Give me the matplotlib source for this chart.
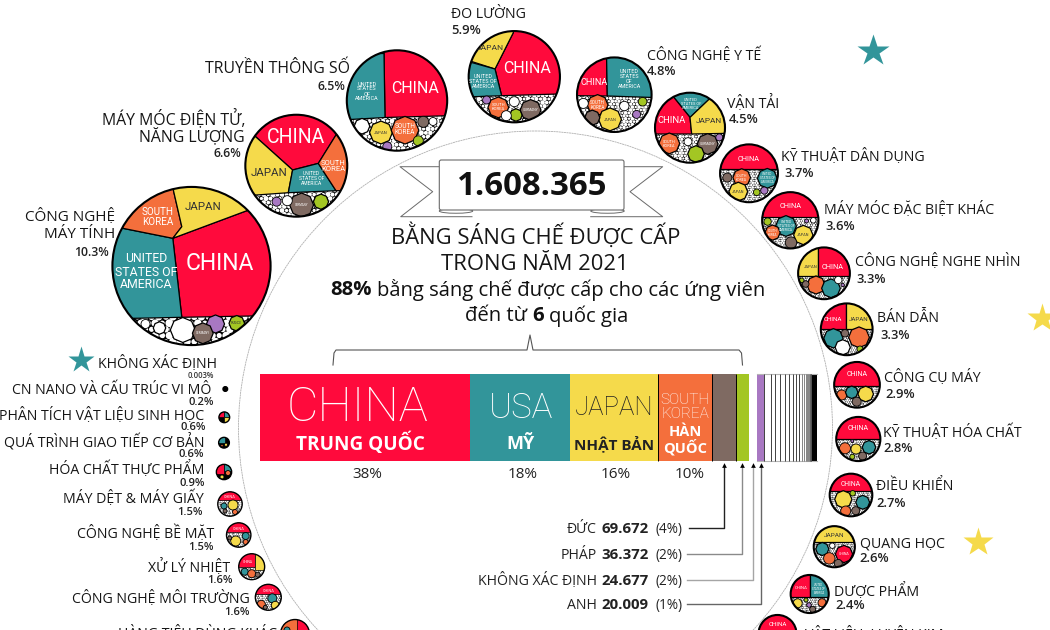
import matplotlib
matplotlib.use("Agg")
import matplotlib.pyplot as plt
from matplotlib.patches import Circle, Polygon, RegularPolygon, Ellipse, FancyBboxPatch

BODY = "Open Sans"
CAPS = "Roboto"
INNER_SCALE = 1.1

# country colours
RED = "#FF0A3C"
TEAL = "#32959A"
YEL = "#F5DA4B"
ORG = "#F46F3C"
BRN = "#7F6A62"
GRN = "#A3C623"
PUR = "#A878C2"

total_patents = "1.608.365"

# stacked bar, patents per country
bar_names = ["CHINA", "USA", "JAPAN", "KOREA", "DE", "FR", "UNK", "UK"]
bar_counts = [606400, 288750, 254100, 155900, 69672, 36372, 24677, 20009]
bar_colors = [RED, TEAL, YEL, ORG, BRN, GRN, "white", PUR]
tail_counts = [19300, 12400, 14400, 13600, 12400, 11500, 8700, 8700, 8700,
               6000, 5000, 4000, 3000, 2500, 2000, 1500, 1200, 900, 700]
others_count = 16285
bar_percents = ["38%", "18%", "16%", "10%"]

detail_names = ["ĐỨC", "PHÁP", "KHÔNG XÁC ĐỊNH", "ANH"]
detail_values = ["69.672", "36.372", "24.677", "20.009"]
detail_pcts = ["(4%)", "(2%)", "(2%)", "(1%)"]

# technology fields, share of all patents
fields = ["CÔNG NGHỆ\nMÁY TÍNH", "MÁY MÓC ĐIỆN TỬ,\nNĂNG LƯỢNG", "TRUYỀN THÔNG SỐ", "ĐO LƯỜNG",
          "CÔNG NGHỆ Y TẾ", "VẬN TẢI", "KỸ THUẬT DÂN DỤNG", "MÁY MÓC ĐẶC BIỆT KHÁC",
          "CÔNG NGHỆ NGHE NHÌN", "BÁN DẪN", "CÔNG CỤ MÁY", "KỸ THUẬT HÓA CHẤT",
          "ĐIỀU KHIỂN", "QUANG HỌC", "DƯỢC PHẨM", "VẬT LIỆU, LUYỆN KIM",
          "HÀNG TIÊU DÙNG KHÁC", "CÔNG NGHỆ MÔI TRƯỜNG", "XỬ LÝ NHIỆT", "CÔNG NGHỆ BỀ MẶT",
          "MÁY DỆT & MÁY GIẤY", "HÓA CHẤT THỰC PHẨM", "QUÁ TRÌNH GIAO TIẾP CƠ BẢN",
          "PHÂN TÍCH VẬT LIỆU SINH HỌC", "CN NANO VÀ CẤU TRÚC VI MÔ"]
field_shares = [10.3, 6.6, 6.5, 5.9, 4.8, 4.5, 3.7, 3.6, 3.3, 3.3, 2.9, 2.8, 2.7, 2.6, 2.4, 2.4,
                1.8, 1.6, 1.6, 1.5, 1.5, 0.9, 0.6, 0.6, 0.2]

# bubble centres, in figure pixels
centers = [(191.5, 266), (296.3, 165.7), (397, 100.5), (514.3, 76.7), (614.3, 94.7), (690, 127.7),
           (749, 173.3), (790.3, 220.3), (824, 273.3), (846.7, 329.3), (857, 384.8), (858.3, 439),
           (851, 495), (834.3, 546.7), (809.7, 594), (777.5, 634),
           (295, 634), (268.3, 597.3), (251.7, 566.7), (238.7, 535), (230, 504), (224, 472),
           (224, 442.7), (224.3, 417.3), (225.3, 389)]

# label anchors: text x, text y, pct x, pct y, side
label_pos = [(115, 215, 109, 251, "right"), (245, 117, 241, 152, "right"), (350, 67, 345, 85, "right"),
             (451, 12, 451, 29, "left"), (647, 54, 647, 70, "left"), (727, 102, 729, 118, "left"),
             (781, 155, 784, 172, "left"), (824, 208, 825, 225, "left"), (855, 260.5, 856, 278, "left"),
             (877, 317, 880, 334, "left"), (884, 376.5, 885.5, 393, "left"), (883, 431, 883.5, 447, "left"),
             (876, 485, 876.5, 502, "left"), (860, 542, 859, 557, "left"), (834, 589, 835, 604, "left"),
             (805, 633, None, None, "left"),
             (277, 633, None, None, "right"), (250, 597, 250, 611, "right"), (230, 565, 233, 579, "right"),
             (214, 532, 214, 546, "right"), (204, 497, 203, 511, "right"), (204, 468, 205, 482, "right"),
             (204, 440, 204, 453, "right"), (204, 414, 206, 426, "right"), (211, 388, 214, 401, "right")]

# top cells of each bubble: colour and outline, offsets from the centre (overshoot is clipped)
def cap(y):
    return [(-90, -90), (90, -90), (90, y), (-90, y)]

def quad(x, y, side):
    return [(x, -90), (side * 90, -90), (side * 90, y), (x, y)]

cells = {
    0: [(RED, [(-18.7, -27.7), (55.3, -55.3), (100, -60), (100, 50), (60.3, 50), (-9.7, 51.3)]),
        (TEAL, [(-68.7, -37.7), (-18.7, -27.7), (-9.7, 51.3), (-56.3, 52.3), (-100, 52), (-100, -37)]),
        (ORG, [(-68.7, -37.7), (-80, -100), (-16, -100), (-18, -75.3), (-9.7, -39.3), (-18.7, -27.7)]),
        (YEL, [(-18, -75.3), (-9.7, -39.3), (-18.7, -27.7), (55.3, -55.3), (55, -100), (-18, -100)])],
    1: [(RED, [(-40.7, -29), (-3.7, 4.3), (22, -2.3), (39.7, -30.7), (60, -60), (-60, -60)]),
        (YEL, [(-40.7, -29), (-3.7, 4.3), (-8, 27), (-39.7, 29.3), (-70, 29), (-70, -29)]),
        (TEAL, [(-3.7, 4.3), (22, -2.3), (39.7, 25), (-8, 27)]),
        (ORG, [(39.7, -30.7), (22, -2.3), (39.7, 25), (70, 25), (70, -30)])],
    2: [(RED, [(-13, -47), (-12, 17), (48, 15.3), (60, 15), (60, -60), (-13, -60)]),
        (TEAL, [(-13, -47), (-12, 17), (-47, 19), (-60, 19), (-60, -47)])],
    3: [(RED, [(-1, -44), (-19.3, -7.7), (-12.7, 19), (44, 17.3), (60, 17), (60, -60), (0, -60)]),
        (YEL, [(-1, -44), (-19.3, -7.7), (-42, -15), (-60, -15), (-60, -60), (-1, -60)]),
        (TEAL, [(-42, -14), (-19.3, -7.7), (-12.7, 19), (-41, 20), (-60, 20), (-60, -14)])],
    4: [(RED, [(-7.7, -35.3), (-7, 1.3), (-36.3, 1), (-50, 1), (-50, -50), (-8, -50)]),
        (TEAL, [(-7.7, -35.3), (-7, 1.3), (36.3, 2.7), (50, 3), (50, -50), (-8, -50)])],
    5: [(TEAL, [(-16.7, -31), (0, -10.3), (20, -29.3), (20, -50), (-17, -50)]),
        (RED, [(-16.7, -31), (0, -10.3), (1.7, 6.3), (-34, 6.3), (-50, 6), (-50, -40), (-17, -40)]),
        (YEL, [(20, -29.3), (0, -10.3), (1.7, 6.3), (34, 5.7), (50, 6), (50, -40), (20, -40)])],
    6: [(RED, cap(-4.3))],
    7: [(RED, cap(-3.7))],
    8: [(YEL, quad(-5.7, 2.7, -1)), (RED, quad(-5.7, 2.7, 1))],
    9: [(RED, quad(-1, 0, -1)), (YEL, quad(-1, 0, 1))],
    10: [(RED, cap(1))],
    11: [(RED, cap(0))],
    12: [(RED, cap(-4.3))],
    13: [(YEL, cap(-4.3))],
    14: [(RED, quad(0.3, 3.3, -1)), (TEAL, quad(0.3, 3.3, 1))],
    15: [(RED, cap(-2))],
    16: [(ORG, cap(-4)), (RED, quad(2, 6, 1))],
    17: [(RED, cap(-3))],
    18: [(RED, quad(3, 0, -1)), (YEL, quad(3, 3, 1))],
    19: [(RED, cap(-3))],
    20: [(RED, cap(-4))],
    21: [(RED, quad(0, 2, -1)), (TEAL, [(0, -9), (9, -9), (9, -1), (0, -1)])],
    22: [(TEAL, quad(1, 0, -1))],
    23: [(RED, quad(0, 0, -1)), (TEAL, quad(0, 0, 1)), (YEL, [(0, 0), (9, 0), (9, 9), (0, 9)])],
}

# round cells in the lower part: colour, dx, dy, radius
blobs = {
    0: [("white", -8.7, 64, 12), (PUR, 24, 58, 8.7), (GRN, 45.3, 57.3, 7.5), (BRN, 11.3, 67.3, 10),
        ("white", -32, 62, 6), ("white", -46, 58, 4.5)],
    1: [(BRN, 5.3, 39.3, 11.5), (GRN, 24.7, 36, 7.3), (PUR, -19.7, 36, 4.5), ("white", -9, 35, 5)],
    2: [(YEL, -16, 32, 11), (ORG, 8, 29.7, 13.3), (BRN, 26.3, 21.3, 5.5), (GRN, 21.3, 40.3, 5),
        (PUR, -9.7, 46, 4.5), ("white", -35, 25.7, 7.5), ("white", 36, 21, 4)],
    3: [(ORG, -16, 30.7, 10), (GRN, 1.7, 38.3, 6), (BRN, 16.3, 33.3, 10), (PUR, -27.7, 23.3, 4),
        ("white", -8, 39, 5), ("white", 0, 25, 5)],
    4: [(ORG, -16.7, 10.3, 10), (YEL, -4.3, 24.7, 11), (BRN, -22, 23, 7.3), (PUR, 22.3, 19.7, 4),
        (GRN, 28.3, 7, 4.3), ("white", -31, 8.7, 5), ("white", 10, 11.3, 4.7)],
    5: [(ORG, -20.7, 15.7, 10), (BRN, 17.7, 16.3, 10), (GRN, 6, 26.3, 8), (PUR, 29.3, 9.7, 3.5),
        ("white", -2, 14, 4)],
    6: [(ORG, -7.3, 4.3, 8.5), (TEAL, 18.3, 5, 9.5), (BRN, -21.7, 4.3, 4.5), (YEL, -10.7, 18.3, 9),
        (GRN, 7.7, 19, 3.3), (PUR, 15.3, 17.3, 3.6)],
    7: [(TEAL, -4.3, 5.7, 10), (YEL, 13, 14.7, 9.3), (ORG, -17.7, 12.3, 7.3), (BRN, 0.7, 22.3, 5.7),
        (GRN, -22.7, 1.3, 3.7), (PUR, 16.3, 0.7, 2), ("white", 23, 0, 2.8)],
    8: [(ORG, -8, 11.7, 8.7), (TEAL, 7, 15, 9), (BRN, -18.3, 10.7, 3.3), (GRN, -22.3, 7, 2.3),
        ("white", 14.3, 6.7, 3.7), (PUR, 18.7, 11.7, 1.7)],
    9: [(TEAL, -13.3, 9, 9.3), (ORG, 12.3, 8, 10), ("white", -4, 18, 7.3), (BRN, -1.7, 4, 3.7),
        (GRN, 13.3, 19.7, 3)],
    10: [(ORG, -15.3, 10.2, 5), (TEAL, -5.3, 7.5, 6), (YEL, 8.7, 9.2, 7.5), (BRN, -0.3, 16.9, 4.5)],
    11: [(ORG, -13.3, 9.3, 5.5), (YEL, -2.3, 10, 5), (TEAL, 10.7, 8.3, 6.5), (BRN, 4.3, 17, 4),
         (GRN, -6, 17.7, 2.5), (PUR, -6, 2, 1.5)],
    12: [(YEL, -7.7, 4.3, 8.3), (TEAL, 11.7, 7.3, 6.7), (ORG, -5.3, 16, 5), (BRN, 4.7, 15.7, 4),
         (GRN, 1.7, -1.7, 2.7)],
    13: [(RED, 9.7, 7.3, 8.3), (TEAL, -12, 2.3, 6.3), (ORG, -5, 11.7, 5.7), (BRN, 4, 16.7, 4),
         ("white", -2, -1, 2.7)],
    14: [(YEL, -12, 9.3, 4.5), (ORG, 12.3, 8.7, 4), (BRN, 3, 15.3, 3), (PUR, -0.7, 11, 2.3),
         (GRN, -3.7, 6, 2)],
    16: [(YEL, -5, 6, 4), (TEAL, -8, -4, 3)],
    17: [(ORG, -7, 7, 4), (TEAL, 4, 1, 4.5), (YEL, 7, 8, 4), (BRN, -3, 10, 2)],
    18: [(TEAL, -7, 5, 3.5), (ORG, 0, 7, 4), (BRN, 6, 8, 2.5)],
    19: [(YEL, -3, 6, 5), (TEAL, 7, 1, 3.5), (ORG, 7, 7, 2.5), (BRN, -9, 3, 2)],
    20: [(YEL, 3, 1, 5), (TEAL, -6, 2, 3), (ORG, 5, 8, 2.5), (BRN, -5, 7, 2)],
    21: [(ORG, 4, 1, 2.5), (YEL, -2, 5, 2)],
    22: [(YEL, 2, 2, 1.6), (ORG, -2, 3, 1.2)],
    23: [],
}

# text inside the bubbles: text, dx, dy, font size, colour
inner_text = {
    0: [("CHINA", 28.5, -3, 15, "white"), ("UNITED\nSTATES OF\nAMERICA", -45, 6, 8, "white"),
        ("SOUTH\nKOREA", -33.5, -49, 6.5, "white"), ("JAPAN", 12, -59, 7.5, "#333333"),
        ("GERMANY", 11.3, 67.3, 2, "white"), ("FRANCE", 45.3, 57.3, 2, "#333333")],
    1: [("CHINA", 0, -28, 12.8, "white"), ("JAPAN", -27, 7, 7.5, "#333333"),
        ("UNITED\nSTATES OF\nAMERICA", 15, 13, 3.3, "white"), ("SOUTH\nKOREA", 37, 0, 5, "white"),
        ("GERMANY", 5.3, 39.3, 1.9, "white")],
    2: [("CHINA", 18, -12, 10.5, "white"), ("UNITED\nSTATES\nOF\nAMERICA", -30, -9, 3.6, "white"),
        ("JAPAN", -16, 32, 2.8, "#333333"), ("SOUTH\nKOREA", 8, 29, 4.3, "white")],
    3: [("CHINA", 13, -8, 10.5, "white"), ("JAPAN", -24, -29, 5.5, "#333333"),
        ("UNITED\nSTATES OF\nAMERICA", -31, 5, 3.5, "white"), ("SOUTH\nKOREA", -16, 30.5, 2.8, "white"),
        ("GERMANY", 16.3, 33.3, 2.2, "white")],
    4: [("CHINA", -20, -12.5, 6, "white"), ("UNITED\nSTATES\nOF\nAMERICA", 15, -15.5, 3.5, "white"),
        ("SOUTH\nKOREA", -16.7, 10, 3, "white"), ("JAPAN", -4.3, 25, 2.6, "#333333")],
    5: [("CHINA", -18, -7.5, 6.2, "white"), ("JAPAN", 19, -7, 5.4, "#333333"),
        ("UNITED\nSTATES OF\nAMERICA", 1, -24, 2.6, "white"), ("SOUTH\nKOREA", -20.7, 16, 2.5, "white"),
        ("GERMANY", 17.7, 16.3, 2.2, "white")],
    6: [("CHINA", 0, -14, 4.8, "white"), ("SOUTH\nKOREA", -7.3, 4.3, 2.3, "white"),
        ("UNITED\nSTATES OF\nAMERICA", 18.3, 5, 2, "white"), ("JAPAN", -10.7, 18.3, 2.5, "#333333")],
    7: [("CHINA", 0, -14, 4.8, "white"), ("UNITED\nSTATES OF\nAMERICA", -4.3, 5.7, 2.1, "white"),
        ("JAPAN", 13, 14.7, 2.5, "#333333"), ("SOUTH\nKOREA", -17.7, 12.3, 2, "white")],
    8: [("CHINA", 9, -6, 4.8, "white"), ("JAPAN", -13, -6, 2.8, "#333333")],
    9: [("CHINA", -13.5, -10, 4, "white"), ("JAPAN", 12, -10, 4, "#333333")],
    10: [("CHINA", 0, -10, 4.6, "white")],
    11: [("CHINA", 0, -10, 4.6, "white")],
    12: [("CHINA", 0, -10, 4.4, "white")],
    13: [("JAPAN", 0, -11, 4.2, "#333333"), ("CHINA", 9.7, 7.3, 2.4, "white")],
    14: [("CHINA", -9, -6, 2.8, "white"), ("UNITED\nSTATES OF\nAMERICA", 9, -5, 1.7, "white")],
    15: [("CHINA", 0, -9, 4, "white")],
    17: [("CHINA", 0, -6, 2.5, "white")],
    18: [("CHINA", -4, -5, 2.2, "white")],
    19: [("CHINA", 0, -6, 2.5, "white")],
    20: [("CHINA", 0, -7, 2.5, "white")],
}

speck_sizes = (0.5, 0.4, 0.52, 0.36, 0.55, 0.44)

fig = plt.figure(figsize=(10.5, 6.3), dpi=100)
ax = fig.add_axes([0, 0, 1, 1])
ax.set_xlim(0, 1050)
ax.set_ylim(630, 0)
ax.axis("off")


def radius_of(share):
    return 0.8 + 7.6 * share


def draw_bubble(idx, share):
    cx, cy = centers[idx]
    r = radius_of(share)
    outline = Circle((cx, cy), r, fc="black", ec="none", zorder=3)
    ax.add_patch(outline)
    parts = []
    # white specks between the cells of the lower part
    if r > 10:
        step = max(2.2, r * 0.09)
        row = 0
        y = -r
        while y < r:
            x = -r + (step / 2 if row % 2 else 0)
            col = 0
            while x < r:
                s = speck_sizes[(row * 2 + col) % len(speck_sizes)]
                parts.append(Circle((cx + x, cy + y), step * s, fc="white", ec="none", zorder=3.1))
                x += step
                col += 1
            y += step * 0.87
            row += 1
    for color, pts in cells.get(idx, []):
        shifted = [(cx + px, cy + py) for px, py in pts]
        parts.append(Polygon(shifted, closed=True, fc=color, ec="black", lw=0.9 if r > 15 else 0.5, zorder=3.2))
    for color, dx, dy, br in blobs.get(idx, []):
        if br >= 6:
            parts.append(RegularPolygon((cx + dx, cy + dy), 8, radius=br * 1.04, fc=color, ec="black",
                                        lw=0.9, joinstyle="round", zorder=3.3))
        else:
            parts.append(Circle((cx + dx, cy + dy), br, fc=color, ec="black", lw=0.6, zorder=3.3))
    for p in parts:
        ax.add_patch(p)
        p.set_clip_path(outline)
    ax.add_patch(Circle((cx, cy), r, fc="none", ec="black", lw=1.5 if r > 15 else 1.0, zorder=3.6))
    for txt, dx, dy, size, color in inner_text.get(idx, []):
        t = ax.text(cx + dx, cy + dy, txt, ha="center", va="center", ma="center", fontsize=size * INNER_SCALE,
                    color=color, family=CAPS, linespacing=1.0, zorder=4)
        t.set_clip_path(outline)


def mixed_line(xc, y, parts, size, color="#111111"):
    # centres a line made of regular and bold pieces
    renderer = fig.canvas.get_renderer()
    widths = []
    for txt, weight in parts:
        t = ax.text(0, 0, txt, fontsize=size, family=BODY, weight=weight)
        widths.append(t.get_window_extent(renderer).width)
        t.remove()
    gap = size * 0.36
    total = sum(widths) + gap * (len(parts) - 1)
    x = xc - total / 2
    for (txt, weight), w in zip(parts, widths):
        ax.text(x, y, txt, fontsize=size, family=BODY, weight=weight, color=color, ha="left", va="center")
        x += w + gap


# dashed ring around the middle block
ax.add_patch(Circle((535.5, 428), 297, fc="none", ec="#b0b0b0", lw=0.6, ls=(0, (2.5, 0.6)), zorder=1))

for i, share in enumerate(field_shares):
    draw_bubble(i, share)

for i, (name, share, (tx, ty, px, py, side)) in enumerate(zip(fields, field_shares, label_pos)):
    fs = 11.4 if i in (1, 2) else (11 if i == 0 else 10.2)
    pct_fs = 8 if i >= 17 else (8.8 if i in (0, 1, 2) else 9.4)
    for k, line in enumerate(name.split("\n")):
        ax.text(tx, ty + 2 + k * 17, line, ha=side, va="center", fontsize=fs, family=BODY, color="#161616", zorder=5)
    if px is not None:
        ax.text(px, py + 1.5, f"{share}%", ha=side, va="center", fontsize=pct_fs, family=BODY, weight="semibold",
                color="#222222", zorder=5)

# field with no bubble
ax.text(217, 364, "KHÔNG XÁC ĐỊNH", ha="right", va="center", fontsize=10.2, family=BODY, color="#161616")
ax.text(214, 376, "0.003%", ha="right", va="center", fontsize=5.5, family=BODY, weight="semibold", color="#333333")

# stars
for x, y, ms, c in [(873, 51, 24, TEAL), (81, 360, 20, TEAL), (978, 542, 22, YEL), (1042, 318, 22, YEL)]:
    ax.plot([x], [y], marker="*", ms=ms, color=c, mec="none", zorder=2)

# ribbon behind the total
rib = "#6a6a6a"
for pts in ([(439, 166.7), (400, 166.7), (432.7, 191.7), (400.7, 216.7), (472, 216.7)],
            [(624, 166.7), (662.7, 166.7), (630, 191.7), (662.7, 216.7), (590.7, 216.7)]):
    ax.plot(*zip(*pts), color=rib, lw=0.7, zorder=2)
for xc in (456, 607.5):
    ax.add_patch(Ellipse((xc, 211), 33.5, 4.5, fc="white", ec=rib, lw=0.7, zorder=2))
ax.add_patch(FancyBboxPatch((439.3, 160), 184.7, 50, boxstyle="round,pad=0,rounding_size=2", fc="white", ec=rib,
                            lw=0.8, zorder=2.2))
ax.text(531, 186.5, total_patents, ha="center", va="center", fontsize=23.8, weight="bold", family=BODY,
        color="#111111", zorder=5)

ax.text(536, 236, "BẰNG SÁNG CHẾ ĐƯỢC CẤP", ha="center", va="center", fontsize=15.8, family=BODY, color="#161616")
ax.text(535, 264, "TRONG NĂM 2021", ha="center", va="center", fontsize=15.8, family=BODY, color="#161616")
mixed_line(547.5, 290, [("88%", "bold"), ("bằng sáng chế được cấp cho các ứng viên", "normal")], 14.6)
mixed_line(547, 316, [("đến từ", "normal"), ("6", "bold"), ("quốc gia", "normal")], 14.6)

# brace over the six leading countries
ax.plot([333, 334, 336, 527, 530, 533, 739, 741.5, 742.5], [365, 353, 350, 350, 335, 350, 350, 353, 365],
        color="#555555", lw=0.8, zorder=2)

# stacked bar
px_per_count = 557 / 1608365
all_counts = bar_counts + tail_counts + [others_count]
all_colors = bar_colors + ["white"] * len(tail_counts) + ["black"]
lefts = []
run = 260.0
for c in all_counts:
    lefts.append(run)
    run += c * px_per_count
widths = [c * px_per_count for c in all_counts]
ax.barh(417.5, widths, height=87, left=lefts, color=all_colors, edgecolor="none", zorder=4)
ax.plot([lefts[7], 817], [374, 374], color="#b5b5b5", lw=0.8, zorder=4.1)
ax.plot([lefts[7], 817], [461, 461], color="#b5b5b5", lw=0.8, zorder=4.1)
ax.vlines(lefts[3:6], 374, 461, color="black", lw=0.7, zorder=4.2)
ax.vlines(lefts[8:17], 374, 461, color="#222222", lw=0.6, zorder=4.2)
ax.vlines(lefts[17:], 374, 461, color="#555555", lw=0.5, zorder=4.2)

mids = [l + w / 2 for l, w in zip(lefts, widths)]
ax.text(358, 408, "CHINA", ha="center", va="center", fontsize=35, color="white", family=CAPS, weight="light", zorder=5)
ax.text(360, 444, "TRUNG QUỐC", ha="center", va="center", fontsize=13.7, color="white", family=BODY, weight="bold", zorder=5)
ax.text(521, 408, "USA", ha="center", va="center", fontsize=25, color="white", family=CAPS, weight="light", zorder=5)
ax.text(521, 444, "MỸ", ha="center", va="center", fontsize=13, color="white", family=BODY, weight="bold", zorder=5)
ax.text(614, 408, "JAPAN", ha="center", va="center", fontsize=18.5, color="#222222", family=CAPS, weight="light", zorder=5)
ax.text(614, 444, "NHẬT BẢN", ha="center", va="center", fontsize=11, color="#222222", family=BODY, weight="bold", zorder=5)
ax.text(685, 407, "SOUTH\nKOREA", ha="center", va="center", fontsize=11, color="white", family=CAPS, weight="light",
        linespacing=1.05, zorder=5)
ax.text(685, 440.5, "HÀN\nQUỐC", ha="center", va="center", fontsize=10.5, color="white", family=BODY, weight="bold",
        linespacing=1.0, zorder=5)
for pct, x in zip(bar_percents, (367, 523, 616, 689.5)):
    ax.text(x, 475, pct, ha="center", va="center", fontsize=11, family=BODY, color="#222222")

# leader lines to the narrow segments
row_y = [528.3, 554.3, 580, 604.3]
line_colors = ["#222222", "#8a8a8a", "#a5a5a5", "#666666"]
line_start = [688.7, 686.7, 686.7, 686.7]
for j in range(4):
    xm = mids[4 + j]
    ax.plot([line_start[j], xm, xm], [row_y[j], row_y[j], 466], color=line_colors[j], lw=1.0, zorder=2)
    ax.plot([xm], [464.5], marker="^", ms=3.4, color="black", mec="none", zorder=3)
    ax.text(596.7, row_y[j] + 1, detail_names[j], ha="right", va="center", fontsize=10.2, family=BODY, color="#222222")
    ax.text(601.5, row_y[j] + 1, detail_values[j], ha="left", va="center", fontsize=10.8, family=BODY, weight="bold", color="#222222")
    ax.text(683, row_y[j] + 1, detail_pcts[j], ha="right", va="center", fontsize=9.8, family=BODY, color="#222222")

fig.savefig("out.png", dpi=100, facecolor="white")
